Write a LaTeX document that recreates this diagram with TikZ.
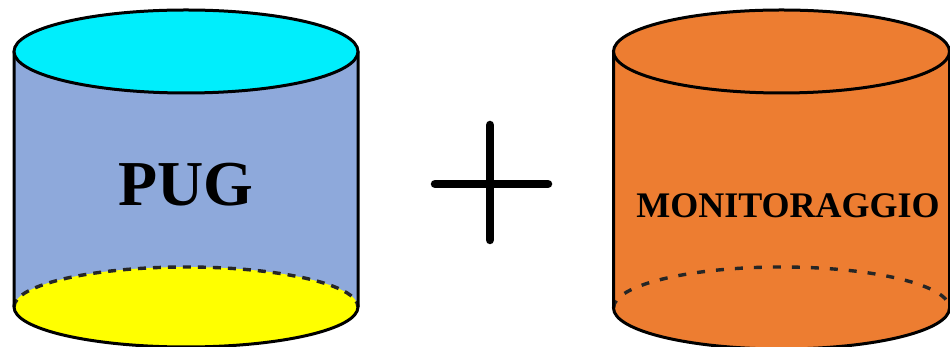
\documentclass[tikz,border=0pt]{standalone}
\usepackage{fontspec}
\setmainfont{Liberation Serif}
\definecolor{topcyan}{RGB}{0,238,252}
\definecolor{sideblue}{RGB}{142,169,219}
\definecolor{botyellow}{RGB}{255,255,0}
\definecolor{orangefill}{RGB}{237,125,49}
\begin{document}
\begin{tikzpicture}[x=1pt,y=1pt,
  outline/.style={draw=black,line width=3pt},
  hidden/.style={draw=black!85,line width=3.4pt,dash pattern=on 8pt off 7pt},
  label/.style={font=\bfseries,text=black,inner sep=0pt}]
\useasboundingbox (0,0) rectangle (950,347);
% ---- left cylinder (PUG)
\fill[sideblue] (14,295.5) -- (14,40) arc[start angle=180,end angle=360,x radius=172,y radius=40] -- (358,295.5) -- cycle;
\fill[botyellow] (186,40) ellipse[x radius=172,y radius=40];
\draw[hidden] (14,40) arc[start angle=180,end angle=0,x radius=172,y radius=40];
\draw[outline] (14,295.5) -- (14,40) arc[start angle=180,end angle=360,x radius=172,y radius=40] -- (358,295.5);
\draw[outline,fill=topcyan] (186,295.5) ellipse[x radius=172,y radius=41.5];
\node[label,font=\fontsize{64}{64}\selectfont\bfseries] (pug) at (186,162) {PUG};
% ---- plus sign
\coordinate (pt) at (490,222);
\coordinate (pb) at (490,107);
\coordinate (pl) at (435,163);
\coordinate (pr) at (548,163);
\draw[line width=8.5pt,line cap=round] (pt) -- (pb);
\draw[line width=8.5pt,line cap=round] (pl) -- (pr);
% ---- right cylinder (MONITORAGGIO)
\fill[orangefill] (613.5,295.5) -- (613.5,39) arc[start angle=180,end angle=360,x radius=168,y radius=41] -- (949.5,295.5) -- cycle;
\draw[hidden,dash pattern=on 8pt off 11pt] (613.5,39) arc[start angle=180,end angle=0,x radius=168,y radius=41];
\draw[outline] (613.5,295.5) -- (613.5,39) arc[start angle=180,end angle=360,x radius=168,y radius=41] -- (949.5,295.5);
\draw[outline,fill=orangefill] (781.5,295.5) ellipse[x radius=168,y radius=41.5];
\node[label,font=\fontsize{36}{36}\selectfont\bfseries] (mon) at (788,141) {MONITORAGGIO};
\end{tikzpicture}
\end{document}
